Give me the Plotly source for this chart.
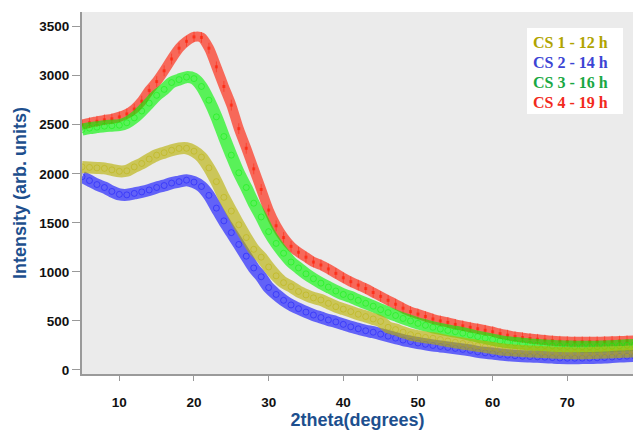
import plotly.graph_objects as go

# 2theta grid (degrees)
two_theta = list(range(5, 80))

# Intensity (arb. units) for each sample
cs1_12h = [2070, 2065, 2060, 2055, 2040, 2025, 2030, 2070, 2105, 2150,
           2190, 2215, 2240, 2258, 2260, 2230, 2170, 2060, 1920, 1760,
           1620, 1480, 1350, 1230, 1150, 1050, 960, 890, 849, 800,
           765, 735, 714, 680, 645, 620, 595, 568, 545, 520,
           495, 435, 412, 385, 360, 345, 332, 323, 310, 295,
           282, 270, 258, 246, 235, 224, 212, 204, 198, 193,
           189, 186, 182, 178, 175, 172, 171, 171, 172, 175,
           177, 180, 183, 186, 188]

cs2_14h = [1970, 1930, 1890, 1860, 1820, 1790, 1785, 1800, 1815, 1835,
           1860, 1880, 1905, 1920, 1935, 1915, 1870, 1780, 1650, 1520,
           1400, 1280, 1160, 1040, 950, 840, 770, 710, 663, 625,
           590, 560, 535, 510, 490, 465, 440, 420, 400, 385,
           365, 345, 325, 305, 290, 275, 262, 250, 240, 230,
           220, 210, 200, 185, 175, 167, 158, 151, 145, 140,
           137, 134, 130, 126, 122, 120, 120, 121, 122, 124,
           127, 132, 137, 141, 143]

cs3_16h = [2450, 2465, 2475, 2485, 2490, 2495, 2520, 2570, 2640, 2720,
           2800, 2860, 2930, 2960, 2985, 2970, 2890, 2750, 2580, 2380,
           2190, 2010, 1860, 1700, 1560, 1410, 1290, 1190, 1100, 1040,
           980, 930, 885, 845, 805, 770, 745, 710, 680, 650,
           615, 585, 555, 525, 500, 475, 455, 435, 418, 403,
           390, 375, 358, 340, 325, 310, 295, 283, 275, 268,
           260, 255, 250, 246, 242, 240, 238, 237, 237, 238,
           240, 243, 247, 252, 255]

cs4_19h = [2500, 2520, 2535, 2550, 2560, 2580, 2610, 2660, 2740, 2850,
           2940, 3050, 3170, 3280, 3350, 3395, 3390, 3280, 3090, 2890,
           2700, 2460, 2260, 2050, 1840, 1630, 1470, 1350, 1260, 1200,
           1150, 1100, 1070, 1030, 985, 940, 900, 865, 830, 790,
           750, 710, 670, 630, 595, 570, 545, 520, 500, 485,
           465, 450, 435, 420, 405, 390, 370, 355, 340, 330,
           320, 313, 305, 298, 293, 290, 288, 287, 287, 288,
           290, 292, 295, 298, 300]

series_names = ["CS 1 - 12 h", "CS 2 - 14 h", "CS 3 - 16 h", "CS 4 - 19 h"]
series_values = [cs1_12h, cs2_14h, cs3_16h, cs4_19h]
mark_colors = ["rgba(184,176,0,{a})", "rgba(15,15,255,{a})",
               "rgba(0,245,0,{a})", "rgba(255,25,0,{a})"]
label_colors = ["#b0a400", "#3c44d4", "#1aa843", "#f22a1c"]

fig = go.Figure()

# draw order: red, green, blue, olive (olive ends up on top)
for idx in [3, 2, 1, 0]:
    col = mark_colors[idx]
    is_red = idx == 3
    fig.add_trace(go.Scatter(
        x=two_theta, y=series_values[idx], name=series_names[idx],
        mode="lines",
        line=dict(color=col.format(a=0.62), width=10 if is_red else 12,
                  shape="spline", smoothing=0.8),
        hoverinfo="skip", showlegend=False))
    if is_red:
        # CS 4 plotted as small squares with vertical bars
        fig.add_trace(go.Scatter(
            x=two_theta, y=series_values[idx], name=series_names[idx],
            mode="markers",
            marker=dict(symbol="square", size=3, color=col.format(a=0.6)),
            error_y=dict(type="constant", value=55, color=col.format(a=0.45),
                         thickness=1, width=0),
            showlegend=False))
    else:
        fig.add_trace(go.Scatter(
            x=two_theta, y=series_values[idx], name=series_names[idx],
            mode="markers",
            marker=dict(symbol="circle-open", size=6,
                        color=col.format(a=0.45), line=dict(width=1)),
            showlegend=False))

# legend box
fig.add_shape(type="rect", xref="paper", yref="paper",
              x0=(527 - 82) / 551, x1=(623 - 82) / 551,
              y0=(374 - 114) / 362, y1=(374 - 28) / 362,
              fillcolor="white", line=dict(width=0), layer="above")
for k, (name, tc) in enumerate(zip(series_names, label_colors)):
    fig.add_annotation(
        xref="paper", yref="paper",
        x=(531 - 82) / 551, y=(374 - (43 + 19.7 * k)) / 362,
        xanchor="left", yanchor="middle", showarrow=False,
        text=f"<b>{name}</b>",
        font=dict(family="Liberation Serif", size=16, color=tc))

axis_title_font = dict(family="Liberation Sans", size=18, color="#1d4f8e")
tick_font = dict(family="Liberation Sans", size=13.5, color="#111111")

fig.update_layout(
    width=633, height=431,
    margin=dict(l=82, r=0, t=12, b=57),
    paper_bgcolor="white", plot_bgcolor="#ebebeb",
    xaxis=dict(
        range=[5, 78.8], tickvals=[10, 20, 30, 40, 50, 60, 70],
        ticktext=["<b>10</b>", "<b>20</b>", "<b>30</b>", "<b>40</b>",
                  "<b>50</b>", "<b>60</b>", "<b>70</b>"],
        ticks="outside", ticklen=5, tickcolor="#999999", tickwidth=1,
        ticklabelstandoff=10,
        showline=True, linecolor="#9a9a9a", linewidth=2,
        showgrid=False, zeroline=False, tickfont=tick_font,
        title=dict(text="<b>2theta(degrees)</b>", font=axis_title_font, standoff=4)),
    yaxis=dict(
        range=[-41, 3649], tickvals=[0, 500, 1000, 1500, 2000, 2500, 3000, 3500],
        ticktext=["<b>0</b>", "<b>500</b>", "<b>1000</b>", "<b>1500</b>",
                  "<b>2000</b>", "<b>2500</b>", "<b>3000</b>", "<b>3500</b>"],
        ticks="outside", ticklen=8, tickcolor="#999999", tickwidth=1,
        showline=True, linecolor="#9a9a9a", linewidth=2,
        showgrid=False, zeroline=False, tickfont=tick_font,
        title=dict(text="<b>Intensity (arb. units)</b>", font=axis_title_font, standoff=8)),
)

fig.write_html("out.html")
